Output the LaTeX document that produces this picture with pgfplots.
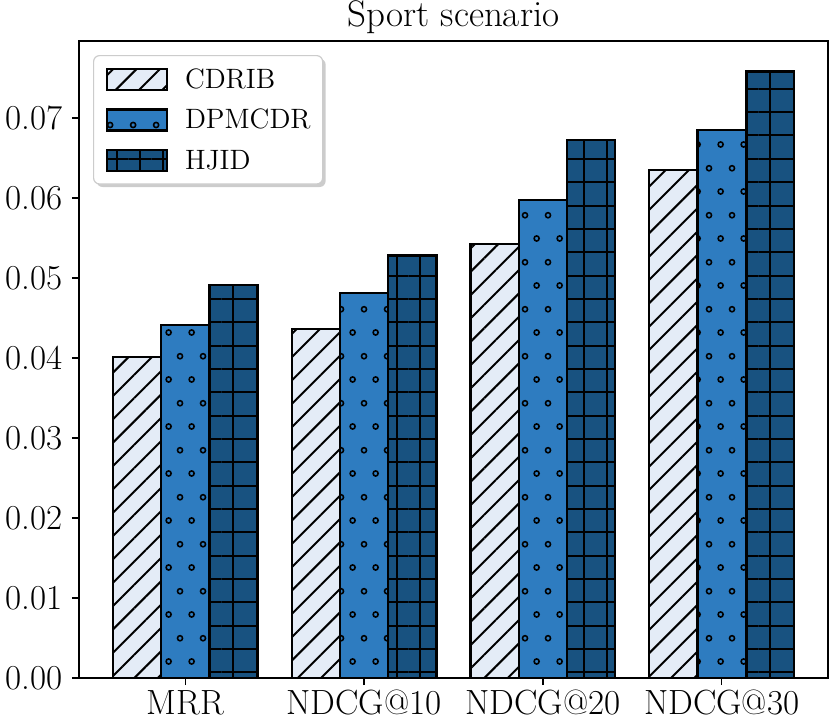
\documentclass[border=0pt]{standalone}
\usepackage{pgfplots}
\pgfplotsset{compat=1.18}
\usetikzlibrary{patterns.meta,shadows}
\definecolor{cCDRIB}{RGB}{228,236,247}
\definecolor{cDPM}{RGB}{46,124,192}
\definecolor{cHJID}{RGB}{24,82,128}
\makeatletter
\tikzset{no preactions/.code={\let\tikz@preactions\pgfutil@empty}}
\makeatother
\tikzdeclarepattern{
  name=ringdots,
  type=uncolored,
  bounding box={(0pt,0pt) and (11.67pt,23.33pt)},
  tile size={(11.67pt,23.33pt)},
  code={
    \draw[line width=0.8pt] (2.9pt,5.8pt) circle (1.3pt);
    \draw[line width=0.8pt] (8.75pt,17.5pt) circle (1.3pt);
  }
}
\pgfplotsset{
  mylegend/.style={legend image code/.code={\draw[no preactions, ##1, sharp corners, line width=1.2pt] (0pt,-5.25pt) rectangle (30pt,5.25pt);}},
  mybar/.style={ybar, bar width=0.27, draw=black, line width=1.2pt, mylegend}
}
\pgfplotstableread{
x CDRIB DPMCDR HJID
0 0.0401 0.0441 0.0491
1 0.0436 0.0481 0.0528
2 0.0542 0.0597 0.0672
3 0.0635 0.0685 0.0758
}\datatable
\begin{document}
\begin{tikzpicture}
\begin{axis}[
  scale only axis, width=374.5pt, height=318.5pt,
  xmin=-0.5955, xmax=3.5955, ymin=0, ymax=0.0796,
  xtick={0,1,2,3}, xticklabels={MRR,NDCG@10,NDCG@20,NDCG@30},
  ytick={0,0.01,0.02,0.03,0.04,0.05,0.06,0.07},
  yticklabel style={/pgf/number format/fixed, /pgf/number format/fixed zerofill,
    /pgf/number format/precision=2, /pgf/number format/assume math mode=true, inner xsep=4.5pt},
  scaled y ticks=false,
  tick align=outside, tick pos=left, major tick length=3.5pt,
  tick style={black, line width=0.8pt},
  axis line style={line width=1pt},
  ticklabel style={font=\fontsize{17.5}{20}\selectfont},
  xticklabel style={inner ysep=2.5pt},
  title={Sport scenario},
  every axis title/.style={at={(0.5,1)}, anchor=base, yshift=7pt, font=\fontsize{18.5}{21}\selectfont},
  legend style={at={(0.0187,0.978)}, anchor=north west, legend cell align=left,
    font=\fontsize{14}{16}\selectfont, draw=black!20, line width=0.6pt,
    rounded corners=3pt, fill=white,
    drop shadow={shadow xshift=1.5pt, shadow yshift=-1.5pt, fill=black!40},
    inner xsep=6pt, inner ysep=6pt, row sep=8.55pt,
    nodes={inner xsep=0pt, inner ysep=0pt, text height=9pt, text depth=0pt},
    /tikz/every odd column/.append style={column sep=8.5pt}},
]
\addplot[mybar, bar shift=-0.27, fill=cCDRIB,
  postaction={pattern={Lines[angle=45,distance=8.25pt,line width=1pt]}, pattern color=black}]
  table[x=x, y=CDRIB] {\datatable};
\addplot[mybar, bar shift=0, fill=cDPM,
  postaction={pattern=ringdots, pattern color=black}]
  table[x=x, y=DPMCDR] {\datatable};
\addplot[mybar, bar shift=0.27, fill=cHJID,
  postaction={pattern={Hatch[angle=0,distance=11.67pt,line width=1pt]}, pattern color=black}]
  table[x=x, y=HJID] {\datatable};
\legend{CDRIB,DPMCDR,HJID}
\end{axis}
\pgfresetboundingbox
\path[use as bounding box] (-39.5pt,-20.5pt) rectangle (376pt,339pt);
\end{tikzpicture}
\end{document}
